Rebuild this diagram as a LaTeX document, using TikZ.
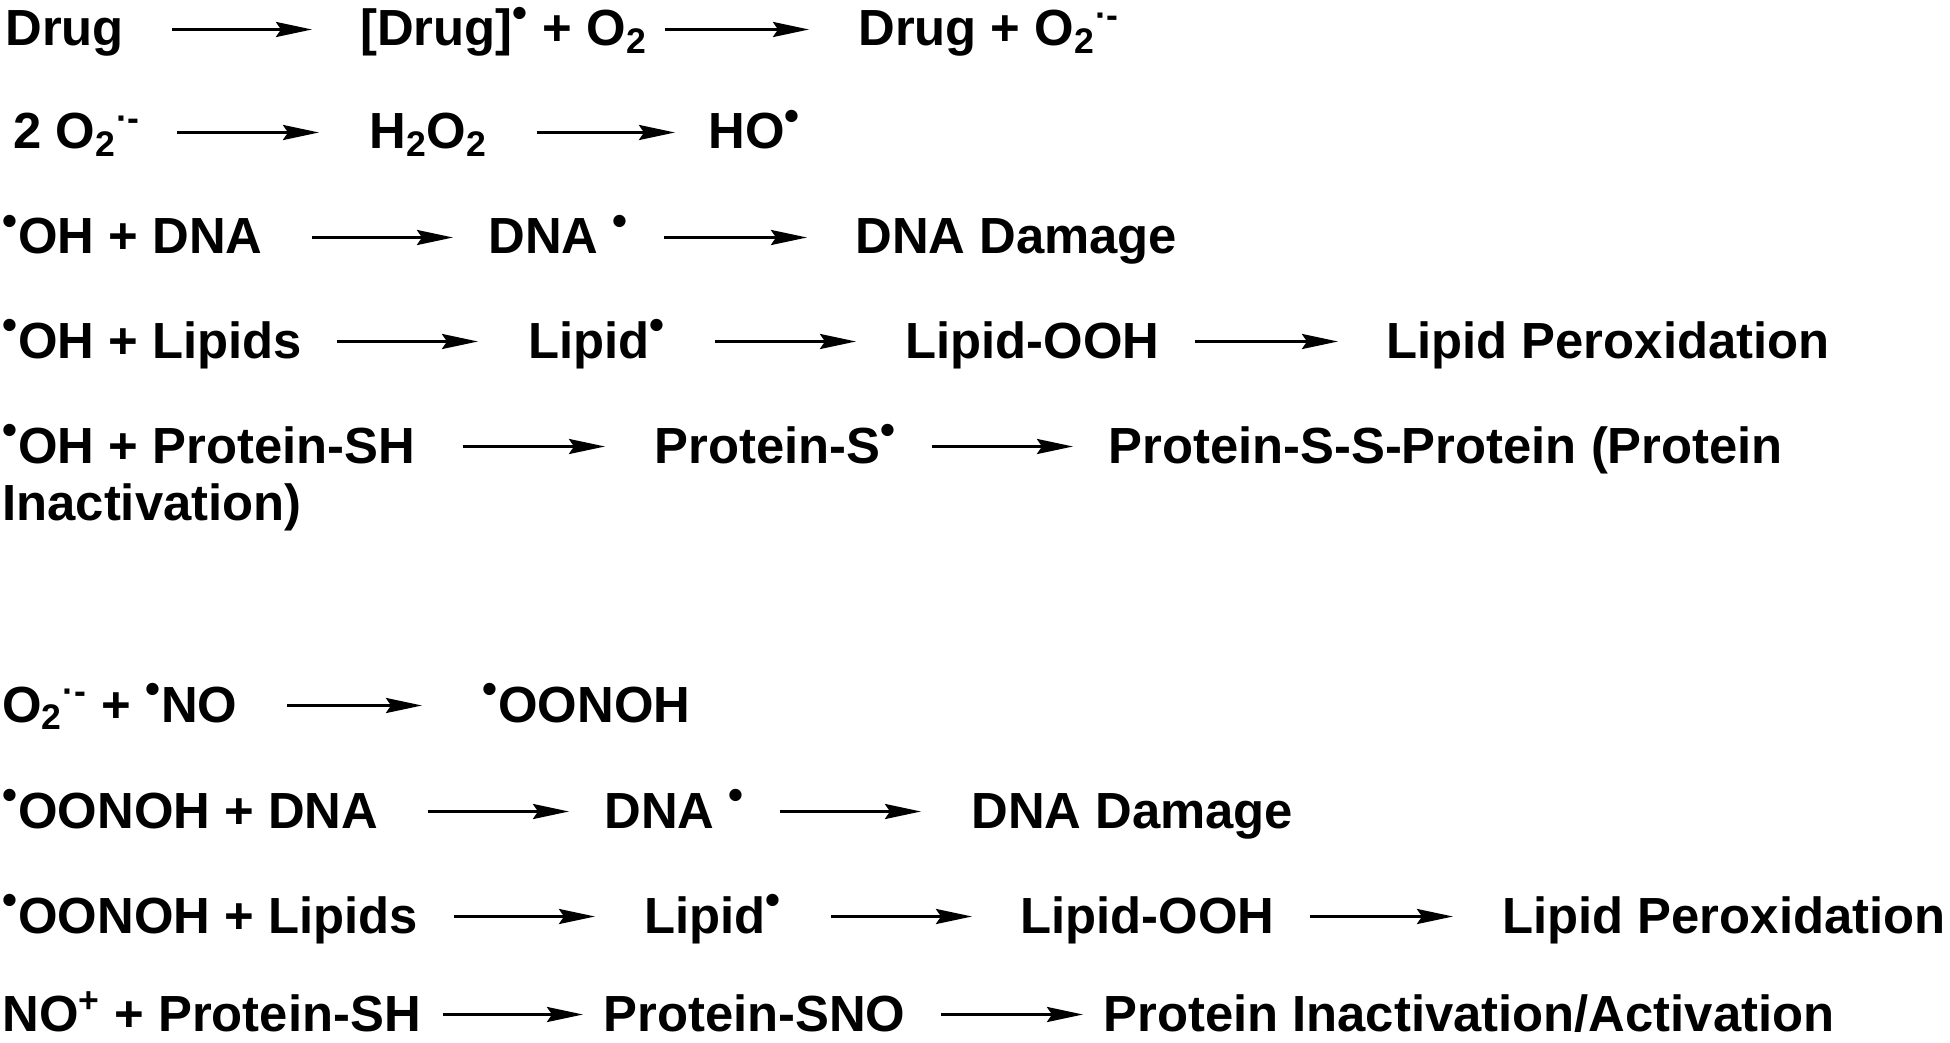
\documentclass[tikz,border=0pt]{standalone}
\usepackage{fontspec}
\setmainfont{Liberation Sans}
\usetikzlibrary{arrows.meta}

\newcommand{\rad}{\textsuperscript{\scalebox{1.2}{•}}}
\newcommand{\sox}{O\textsubscript{2}\textsuperscript{·-}}

\begin{document}
\begin{tikzpicture}[x=0.5pt, y=-0.5pt, every node/.style={anchor=base west,inner sep=0,text height=16.5pt,text depth=0pt,font=\bfseries\fontsize{25.4pt}{28pt}\selectfont}, rxn/.style={line width=1.5pt,-{Stealth[length=18pt,width=7.5pt,inset=2.5pt]}}]

		\useasboundingbox (0,0) rectangle (1950,1043);

		% reactive oxygen species
		\node (A1) at (5,46) {Drug};
		\node (B1) at (360,46) {[Drug]\rad{} + O\textsubscript{2}};
		\node (C1) at (858,46) {Drug + \sox};

		\draw[rxn, shorten <=24pt, shorten >=24pt] (A1) -- (B1);
		\draw[rxn, shorten <=9pt, shorten >=24.5pt] (B1) -- (C1);

		\node (A2) at (13,149) {2 \sox};
		\node (B2) at (369,149) {H\textsubscript{2}O\textsubscript{2}};
		\node (C2) at (708,149) {HO\rad};

		\draw[rxn, shorten <=18pt, shorten >=25pt] (A2) -- (B2);
		\draw[rxn, shorten <=24.5pt, shorten >=16.5pt] (B2) -- (C2);

		\node (A3) at (2,254) {\rad OH + DNA};
		\node (B3) at (488,254) {DNA \rad};
		\node (C3) at (855,254) {DNA Damage};

		\draw[rxn, shorten <=24.5pt, shorten >=17.5pt] (A3) -- (B3);
		\draw[rxn, shorten <=17.5pt, shorten >=24pt] (B3) -- (C3);

		\node (A4) at (2,358) {\rad OH + Lipids};
		\node (B4) at (528,358) {Lipid\rad};
		\node (C4) at (905,358) {Lipid-OOH};
		\node (D4) at (1386,358) {Lipid Peroxidation};

		\draw[rxn, shorten <=17.5pt, shorten >=25pt] (A4) -- (B4);
		\draw[rxn, shorten <=24.5pt, shorten >=24.5pt] (B4) -- (C4);
		\draw[rxn, shorten <=17.5pt, shorten >=24pt] (C4) -- (D4);

		\node (A5) at (2,463) {\rad OH + Protein-SH};
		\node (B5) at (654,463) {Protein-S\rad};
		\node (C5) at (1108,463) {Protein-S-S-Protein (Protein};
		\node (D5) at (2,520) {Inactivation)};

		\draw[rxn, shorten <=24pt, shorten >=24.5pt] (A5) -- (B5);
		\draw[rxn, shorten <=17.5pt, shorten >=17.5pt] (B5) -- (C5);

		% reactive nitrogen species
		\node (A6) at (2,722) {\sox{} + \rad NO};
		\node (B6) at (482,722) {\rad OONOH};

		\draw[rxn, shorten <=24.5pt, shorten >=30pt] (A6) -- (B6);

		\node (A7) at (2,828) {\rad OONOH + DNA};
		\node (B7) at (604,828) {DNA \rad};
		\node (C7) at (971,828) {DNA Damage};

		\draw[rxn, shorten <=24.5pt, shorten >=17.5pt] (A7) -- (B7);
		\draw[rxn, shorten <=17.5pt, shorten >=25pt] (B7) -- (C7);

		\node (A8) at (2,933) {\rad OONOH + Lipids};
		\node (B8) at (644,933) {Lipid\rad};
		\node (C8) at (1020,933) {Lipid-OOH};
		\node (D8) at (1502,933) {Lipid Peroxidation};

		\draw[rxn, shorten <=18pt, shorten >=24.5pt] (A8) -- (B8);
		\draw[rxn, shorten <=24.5pt, shorten >=24pt] (B8) -- (C8);
		\draw[rxn, shorten <=17.5pt, shorten >=24.5pt] (C8) -- (D8);

		\node (A9) at (2,1031) {NO\textsuperscript{+} + Protein-SH};
		\node (B9) at (603,1031) {Protein-SNO};
		\node (C9) at (1103,1031) {Protein Inactivation/Activation};

		\draw[rxn, shorten <=11pt, shorten >=10pt] (A9) -- (B9);
		\draw[rxn, shorten <=17.5pt, shorten >=10pt] (B9) -- (C9);

	\end{tikzpicture}
\end{document}
